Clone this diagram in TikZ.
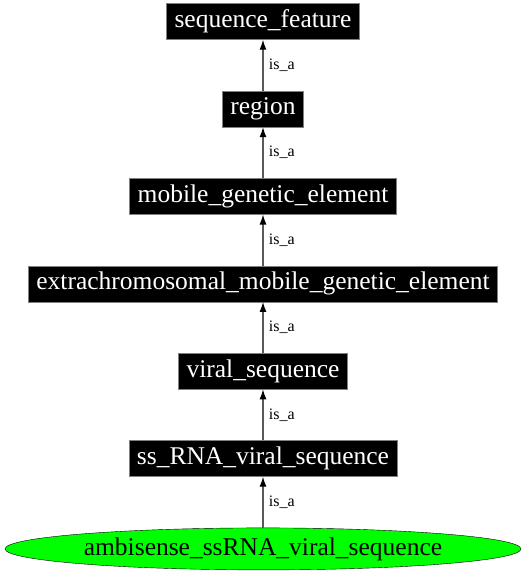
\documentclass[tikz,border=0pt]{standalone}
\usepackage{fontspec}
\setmainfont{Liberation Serif}
\usetikzlibrary{shapes.geometric, arrows.meta, positioning}

\begin{document}
\begin{tikzpicture}[
    x=1pt, y=-1pt,
    node distance=51pt,
    term/.style={rectangle, draw=gray, fill=black, text=white,
                 minimum height=36pt, inner xsep=8pt, inner ysep=0pt,
                 font=\fontsize{25.5}{28}\selectfont},
    leaf/.style={ellipse, draw=black, fill=green, inner sep=0pt,
                 minimum width=516pt, minimum height=42pt,
                 font=\fontsize{25.5}{28}\selectfont},
    isa/.style={draw=black!65, line width=1.3pt,
                -{Latex[length=10pt, width=7pt, black]}},
    rel/.style={font=\fontsize{16}{18}\selectfont, right=2pt, midway}
]
\useasboundingbox (0,0) rectangle (526,576);

%% -- ontology chain ---------------------------------------------------
\node[term] (seqfeat) at (263,21.5) {sequence\_feature};
\node[term, below=of seqfeat]   (region)  {region};
\node[term, below=of region]    (mge)     {mobile\_genetic\_element};
\node[term, below=of mge]       (xmge)    {extrachromosomal\_mobile\_genetic\_element};
\node[term, below=of xmge]      (viral)   {viral\_sequence};
\node[term, below=of viral]     (ssrna)   {ss\_RNA\_viral\_sequence};
\node[leaf, below=51pt of ssrna] (ambi)   {ambisense\_ssRNA\_viral\_sequence};

%% -- is_a edges --------------------------------------------------------
\draw[isa] (region) -- node[rel] {is\_a} (seqfeat);
\draw[isa] (mge)    -- node[rel] {is\_a} (region);
\draw[isa] (xmge)   -- node[rel] {is\_a} (mge);
\draw[isa] (viral)  -- node[rel] {is\_a} (xmge);
\draw[isa] (ssrna)  -- node[rel] {is\_a} (viral);
\draw[isa] (ambi)   -- node[rel] {is\_a} (ssrna);

\end{tikzpicture}
\end{document}
